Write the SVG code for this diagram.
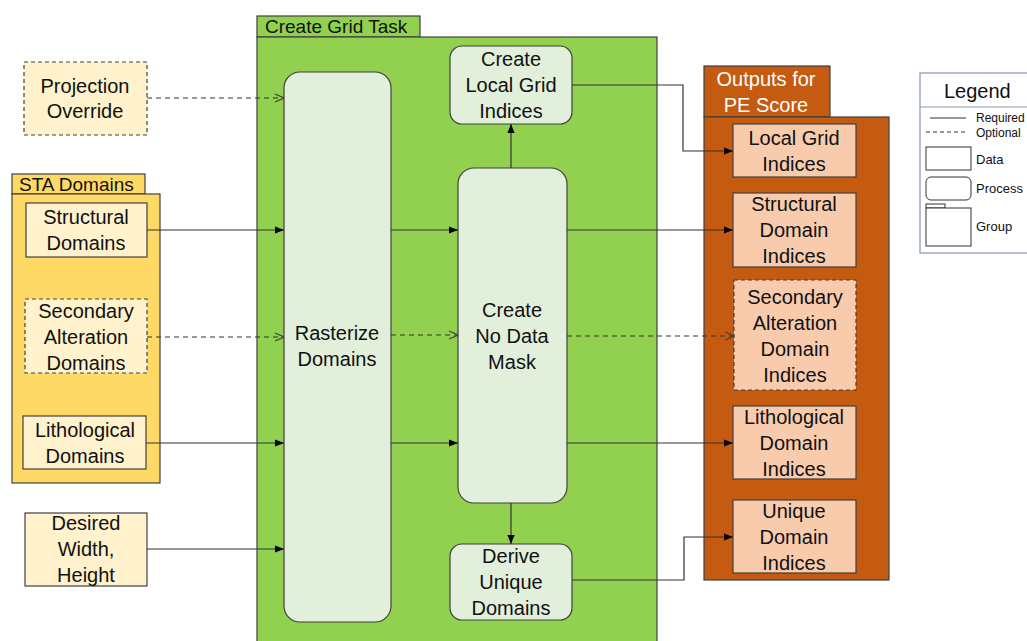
<svg xmlns="http://www.w3.org/2000/svg" width="1027" height="641" viewBox="0 0 1027 641">
  <defs>
    <marker id="solid" viewBox="0 0 10 10" refX="10" refY="5" markerWidth="9" markerHeight="9" markerUnits="userSpaceOnUse" orient="auto">
      <path d="M0,1 L10,5 L0,9 Z" fill="#000"/>
    </marker>
    <marker id="open" viewBox="0 0 10 10" refX="10" refY="5" markerWidth="10" markerHeight="10" markerUnits="userSpaceOnUse" orient="auto">
      <path d="M1,1 L10,5 L1,9" fill="none" stroke="#404040" stroke-width="1.2"/>
    </marker>
    <style>
      text { font-family: "Liberation Sans", Arial, sans-serif; font-size: 20px; fill: #111; text-anchor: middle; }
      .lbl { text-anchor: start; }
      .white { fill: #fff; }
      .grpG { fill: #92D050; stroke: #404040; stroke-width: 1.2; }
      .grpY { fill: #FFD966; stroke: #404040; stroke-width: 1.2; }
      .grpO { fill: #C55A11; stroke: #404040; stroke-width: 1.2; }
      .proc { fill: #E2EFDA; stroke: #404040; stroke-width: 1.2; }
      .dataY { fill: #FFF2CC; stroke: #404040; stroke-width: 1.2; }
      .dataO { fill: #F8CBAD; stroke: #404040; stroke-width: 1.2; }
      .dash { stroke-dasharray: 4 3; }
      .req { fill: none; stroke: #333; stroke-width: 1.2; marker-end: url(#solid); }
      .opt { fill: none; stroke: #333; stroke-width: 1.1; stroke-dasharray: 5 4; marker-end: url(#open); }
      .leg { font-size: 13px; text-anchor: start; }
      .legs { font-size: 12px; text-anchor: start; }
    </style>
  </defs>
  <rect width="1027" height="641" fill="#fff"/>

  <!-- Create Grid Task group -->
  <g id="create-grid-task">
    <rect class="grpG" x="257" y="16" width="163" height="21"/>
    <rect class="grpG" x="257" y="37" width="400" height="610"/>
    <text class="lbl" x="265" y="33" style="font-size:19px">Create Grid Task</text>
  </g>

  <!-- STA Domains group -->
  <g id="sta-domains">
    <rect class="grpY" x="12" y="174" width="133" height="20"/>
    <rect class="grpY" x="12" y="194" width="148" height="289"/>
    <text class="lbl" x="19" y="191" style="font-size:19px">STA Domains</text>
  </g>

  <!-- Outputs group -->
  <g id="outputs-group">
    <rect class="grpO" x="704" y="66" width="126" height="51"/>
    <rect class="grpO" x="704" y="117" width="185" height="463"/>
    <text class="white" x="766" y="86">Outputs for</text>
    <text class="white" x="766" y="112">PE Score</text>
  </g>

  <!-- Inputs -->
  <g id="projection-override">
    <rect class="dataY dash" x="24" y="62" width="123" height="73"/>
    <text x="85" y="93">Projection</text>
    <text x="85" y="118">Override</text>
  </g>
  <g id="structural-domains">
    <rect class="dataY" x="26" y="203" width="121" height="54"/>
    <text x="86" y="224">Structural</text>
    <text x="86" y="250">Domains</text>
  </g>
  <g id="secondary-alteration-domains">
    <rect class="dataY dash" x="25" y="299" width="122" height="74"/>
    <text x="86" y="318">Secondary</text>
    <text x="86" y="344">Alteration</text>
    <text x="86" y="370">Domains</text>
  </g>
  <g id="lithological-domains">
    <rect class="dataY" x="23" y="416" width="123" height="53"/>
    <text x="85" y="437">Lithological</text>
    <text x="85" y="463">Domains</text>
  </g>
  <g id="desired-width-height">
    <rect class="dataY" x="25" y="513" width="122" height="73"/>
    <text x="86" y="530">Desired</text>
    <text x="86" y="556">Width,</text>
    <text x="86" y="582">Height</text>
  </g>

  <!-- Processes -->
  <g id="rasterize-domains">
    <rect class="proc" x="284" y="72" width="107" height="550" rx="16"/>
    <text x="337" y="340">Rasterize</text>
    <text x="337" y="366">Domains</text>
  </g>
  <g id="create-local-grid-indices">
    <rect class="proc" x="450" y="46" width="122" height="78" rx="12"/>
    <text x="511" y="66">Create</text>
    <text x="511" y="92">Local Grid</text>
    <text x="511" y="118">Indices</text>
  </g>
  <g id="create-no-data-mask">
    <rect class="proc" x="458" y="168" width="109" height="335" rx="16"/>
    <text x="512" y="317">Create</text>
    <text x="512" y="343">No Data</text>
    <text x="512" y="369">Mask</text>
  </g>
  <g id="derive-unique-domains">
    <rect class="proc" x="450" y="544" width="122" height="76" rx="12"/>
    <text x="511" y="563">Derive</text>
    <text x="511" y="589">Unique</text>
    <text x="511" y="615">Domains</text>
  </g>

  <!-- Outputs -->
  <g id="local-grid-indices">
    <rect class="dataO" x="733" y="124" width="123" height="53"/>
    <text x="794" y="145">Local Grid</text>
    <text x="794" y="171">Indices</text>
  </g>
  <g id="structural-domain-indices">
    <rect class="dataO" x="733" y="193" width="123" height="74"/>
    <text x="794" y="211">Structural</text>
    <text x="794" y="237">Domain</text>
    <text x="794" y="263">Indices</text>
  </g>
  <g id="secondary-alteration-domain-indices">
    <rect class="dataO dash" x="734" y="280" width="122" height="110"/>
    <text x="795" y="304">Secondary</text>
    <text x="795" y="330">Alteration</text>
    <text x="795" y="356">Domain</text>
    <text x="795" y="382">Indices</text>
  </g>
  <g id="lithological-domain-indices">
    <rect class="dataO" x="733" y="406" width="123" height="73"/>
    <text x="794" y="424">Lithological</text>
    <text x="794" y="450">Domain</text>
    <text x="794" y="476">Indices</text>
  </g>
  <g id="unique-domain-indices">
    <rect class="dataO" x="733" y="500" width="123" height="73"/>
    <text x="794" y="518">Unique</text>
    <text x="794" y="544">Domain</text>
    <text x="794" y="570">Indices</text>
  </g>

  <!-- Connectors -->
  <g id="connectors">
    <path class="opt" d="M147,98 H284"/>
    <path class="req" d="M147,230 H284"/>
    <path class="opt" d="M147,337 H284"/>
    <path class="req" d="M146,443 H284"/>
    <path class="req" d="M147,549 H284"/>

    <path class="req" d="M391,230 H458"/>
    <path class="opt" d="M391,335 H458"/>
    <path class="req" d="M391,443 H458"/>

    <path class="req" d="M511,168 V124"/>
    <path class="req" d="M511,503 V544"/>

    <path class="req" d="M572,85 H683 V151 H733"/>
    <path class="req" d="M567,230 H733"/>
    <path class="opt" d="M567,336 H734"/>
    <path class="req" d="M567,443 H733"/>
    <path class="req" d="M572,580 H684 V537 H733"/>
  </g>

  <!-- Legend -->
  <g id="legend">
    <rect x="920" y="73" width="120" height="180" fill="#fff" stroke="#8497B0" stroke-width="1.2"/>
    <line x1="920" y1="107" x2="1027" y2="107" stroke="#8497B0" stroke-width="1.2"/>
    <text class="lbl" x="944" y="98" style="font-size:20px">Legend</text>
    <line x1="930" y1="118" x2="966" y2="118" stroke="#333" stroke-width="1"/>
    <text class="legs" x="976" y="122">Required</text>
    <line x1="926" y1="132" x2="966" y2="132" stroke="#333" stroke-width="1" stroke-dasharray="4 3"/>
    <text class="legs" x="976" y="137">Optional</text>
    <rect x="926" y="147" width="45" height="23" fill="#fff" stroke="#333" stroke-width="1"/>
    <text class="leg" x="976" y="164">Data</text>
    <rect x="926" y="177" width="45" height="23" rx="5" fill="#fff" stroke="#333" stroke-width="1"/>
    <text class="leg" x="976" y="193">Process</text>
    <rect x="926" y="204" width="19" height="4" fill="#fff" stroke="#333" stroke-width="1"/>
    <rect x="926" y="208" width="45" height="38" fill="#fff" stroke="#333" stroke-width="1"/>
    <text class="leg" x="976" y="231">Group</text>
  </g>
</svg>
